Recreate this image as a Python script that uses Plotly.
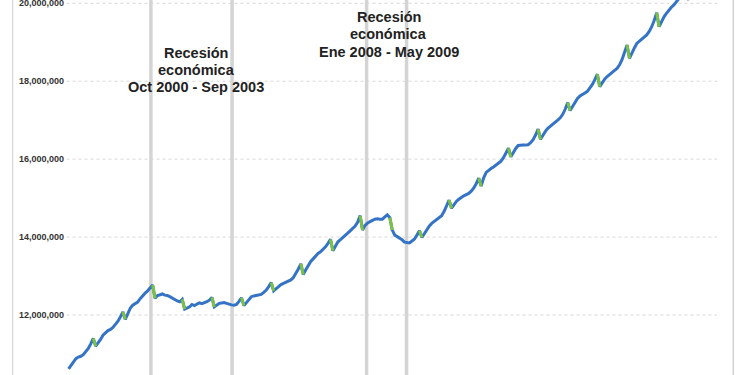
import pandas as pd
import plotly.graph_objects as go

# Monthly employment (millions), Jan..Dec per row
employment_millions = [
    10.62, 10.70, 10.80, 10.88, 10.92, 10.94, 10.98, 11.06, 11.14, 11.26, 11.40, 11.20,  # 1998
    11.28, 11.38, 11.48, 11.54, 11.60, 11.63, 11.68, 11.76, 11.84, 11.95, 12.08, 11.89,  # 1999
    12.05, 12.18, 12.25, 12.30, 12.33, 12.42, 12.50, 12.56, 12.62, 12.70, 12.77, 12.43,  # 2000
    12.50, 12.52, 12.54, 12.51, 12.50, 12.47, 12.43, 12.40, 12.36, 12.34, 12.40, 12.15,  # 2001
    12.17, 12.21, 12.27, 12.24, 12.28, 12.31, 12.29, 12.31, 12.34, 12.38, 12.45, 12.21,  # 2002
    12.26, 12.30, 12.31, 12.32, 12.30, 12.27, 12.26, 12.25, 12.27, 12.35, 12.44, 12.24,  # 2003
    12.32, 12.42, 12.47, 12.49, 12.50, 12.52, 12.53, 12.58, 12.64, 12.73, 12.83, 12.62,  # 2004
    12.68, 12.74, 12.78, 12.81, 12.84, 12.87, 12.90, 12.96, 13.06, 13.18, 13.31, 13.04,  # 2005
    13.16, 13.27, 13.37, 13.44, 13.52, 13.58, 13.62, 13.68, 13.75, 13.84, 13.94, 13.65,  # 2006
    13.78, 13.88, 13.93, 13.98, 14.04, 14.10, 14.16, 14.22, 14.28, 14.38, 14.55, 14.18,  # 2007
    14.30, 14.36, 14.40, 14.43, 14.46, 14.47, 14.46, 14.46, 14.52, 14.57, 14.50, 14.18,  # 2008
    14.05, 14.01, 13.99, 13.93, 13.87, 13.85, 13.85, 13.90, 13.95, 14.05, 14.16, 13.99,  # 2009
    14.10, 14.20, 14.28, 14.35, 14.40, 14.44, 14.48, 14.55, 14.66, 14.80, 14.95, 14.74,  # 2010
    14.84, 14.92, 14.97, 15.02, 15.06, 15.09, 15.12, 15.18, 15.26, 15.37, 15.51, 15.31,  # 2011
    15.52, 15.66, 15.72, 15.76, 15.80, 15.85, 15.89, 15.95, 16.04, 16.15, 16.28, 16.06,  # 2012
    16.18, 16.28, 16.35, 16.36, 16.36, 16.36, 16.37, 16.42, 16.50, 16.62, 16.77, 16.51,  # 2013
    16.62, 16.72, 16.79, 16.84, 16.88, 16.94, 17.00, 17.06, 17.15, 17.28, 17.45, 17.25,  # 2014
    17.36, 17.47, 17.56, 17.62, 17.67, 17.70, 17.74, 17.82, 17.92, 18.04, 18.18, 17.86,  # 2015
    17.98, 18.06, 18.12, 18.18, 18.24, 18.28, 18.33, 18.42, 18.56, 18.74, 18.93, 18.59,  # 2016
    18.74, 18.86, 18.97, 19.02, 19.08, 19.14, 19.19, 19.28, 19.40, 19.56, 19.76, 19.40,  # 2017
    19.55, 19.66, 19.74, 19.83, 19.90, 19.96, 20.04, 20.10, 20.20, 20.32, 20.46, 20.08,  # 2018
]
start_month = "1998-01-01"

y_tick_values = [12_000_000, 14_000_000, 16_000_000, 18_000_000, 20_000_000]

recession_labels = [
    ["Recesión", "económica", "Oct 2000 - Sep 2003"],
    ["Recesión", "económica", "Ene 2008 - May 2009"],
]
recession_bounds = [
    ("2000-10-11", "2003-07-08"),
    ("2008-01-20", "2009-05-26"),
]

dates = pd.date_range(start_month, periods=len(employment_millions), freq="MS")
values = [v * 1_000_000 for v in employment_millions]

BLUE = "#3573c6"
GREEN = "#7cc242"

fig = go.Figure()
fig.add_trace(go.Scatter(x=dates, y=values, mode="lines",
                         line=dict(color=BLUE, width=3), hoverinfo="skip",
                         showlegend=False))

# November -> December drops in green
gx, gy = [], []
for i in range(len(dates) - 1):
    if dates[i].month == 11:
        gx += [dates[i], dates[i + 1], None]
        gy += [values[i], values[i + 1], None]
fig.add_trace(go.Scatter(x=gx, y=gy, mode="lines",
                         line=dict(color=GREEN, width=3), hoverinfo="skip",
                         showlegend=False))

W, H = 750, 375
L, R = 65, 17
plot_w = W - L - R

def px_to_paper_x(px):
    return (px - L) / plot_w

def px_to_paper_y(py):
    return 1 - py / H

shapes = []
# dashed horizontal grid
for v in y_tick_values:
    shapes.append(dict(type="line", xref="paper", yref="y",
                       x0=px_to_paper_x(66.5), x1=px_to_paper_x(717), y0=v, y1=v,
                       line=dict(color="#d8d8d8", width=1, dash="3px,3px"), layer="below"))
# recession vertical lines
for a, b in recession_bounds:
    for d in (a, b):
        shapes.append(dict(type="line", xref="x", yref="paper", x0=d, x1=d, y0=0, y1=1,
                           line=dict(color="#d4d4d4", width=3.5), layer="below"))
# frame lines
shapes.append(dict(type="line", xref="paper", yref="paper",
                   x0=px_to_paper_x(12.7), x1=px_to_paper_x(12.7), y0=0, y1=1,
                   line=dict(color="#cfcfcf", width=1)))
shapes.append(dict(type="line", xref="paper", yref="paper",
                   x0=px_to_paper_x(733.3), x1=px_to_paper_x(733.3), y0=0, y1=1,
                   line=dict(color="#d2d2d2", width=1.5)))

annotations = []
label_centers = [(196, [52.7, 69.5, 86.7]), (388.5, [17.3, 34, 51.7])]
for lines, (cx, ys) in zip(recession_labels, label_centers):
    for text, yy in zip(lines, ys):
        annotations.append(dict(text=text, xref="paper", yref="paper",
                                x=px_to_paper_x(cx), y=px_to_paper_y(yy),
                                xanchor="center", yanchor="middle", showarrow=False,
                                font=dict(family="Liberation Sans", size=14.5,
                                          color="#222222", weight="bold")))

fig.update_layout(
    width=W, height=H,
    margin=dict(l=L, r=R, t=0, b=0, pad=0, autoexpand=False),
    paper_bgcolor="white", plot_bgcolor="white",
    shapes=shapes, annotations=annotations,
    xaxis=dict(type="date", range=["1997-11-18", "2020-05-29"], showgrid=False,
               zeroline=False, showline=False, showticklabels=False, ticks="",
               automargin=False),
    yaxis=dict(range=[10_460_000, 20_084_700], tickvals=y_tick_values,
               tickformat=",d", showgrid=False, zeroline=False, showline=False,
               ticks="", automargin=False, ticklabeloverflow="allow",
               tickfont=dict(family="Liberation Sans", size=9,
                             color="#333333", weight="bold")),
)

fig.write_html("out.html",
               config={"displayModeBar": False, "staticPlot": True},
               post_script="document.body.style.margin='0px';"
                           "document.body.style.overflow='hidden';")
